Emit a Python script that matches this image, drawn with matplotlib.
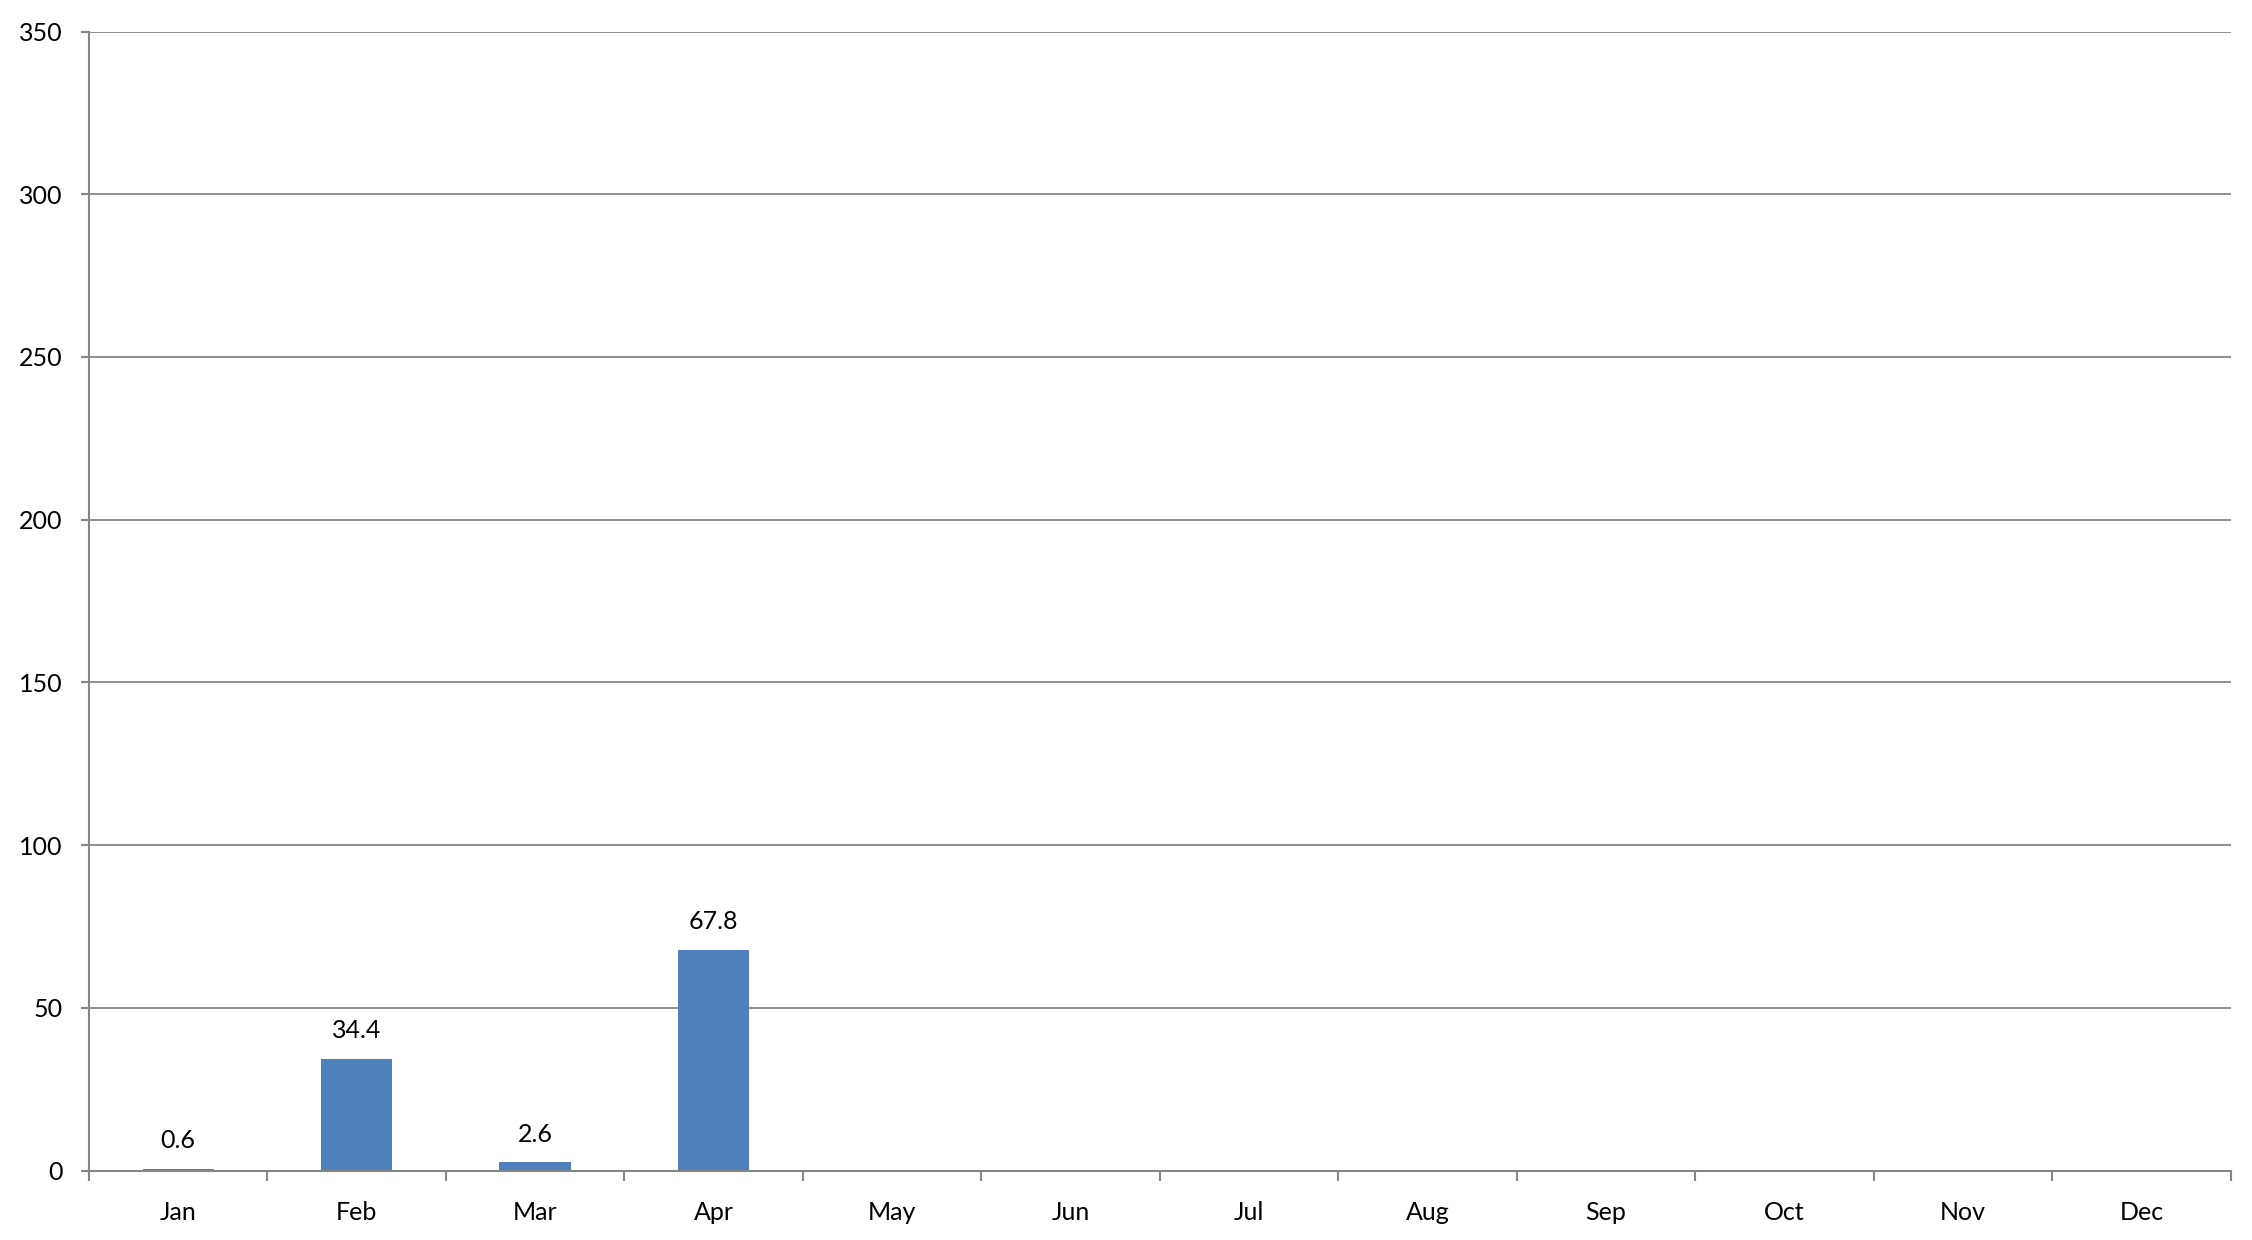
import matplotlib
matplotlib.use("Agg")
import matplotlib.pyplot as plt
import numpy as np

months = ["Jan", "Feb", "Mar", "Apr", "May", "Jun", "Jul", "Aug", "Sep", "Oct", "Nov", "Dec"]
values = [0.6, 34.4, 2.6, 67.8, None, None, None, None, None, None, None, None]
yticks = [0, 50, 100, 150, 200, 250, 300, 350]

plt.rcParams['font.family'] = ['Lato', 'DejaVu Sans']
gray = "#868686"
barc = "#4F81BD"

fig = plt.figure(figsize=(22.52, 12.40), dpi=100)
ax = fig.add_axes([89/2252, 1-1170.7/1240, (2230.7-89)/2252, (1170.7-31.5)/1240])

x = np.arange(len(months))
for xi, v in zip(x, values):
    if v is None:
        continue
    ax.bar(xi, v, width=0.40, color=barc, zorder=3)
    ax.annotate(f"{v:.1f}", (xi, v), xytext=(0, 12), textcoords="offset points",
                ha="center", va="bottom", fontsize=18, color="black")

ax.set_xlim(-0.5, 11.5)
ax.set_ylim(0, 350)
ax.set_yticks(yticks)
ax.set_yticklabels([str(t) for t in yticks])
ax.set_xticks(x)
ax.set_xticklabels(months)
ax.set_xticks(np.arange(-0.5, 12, 1), minor=True)
ax.tick_params(axis="x", which="major", length=0, pad=22, labelsize=18)
ax.tick_params(axis="x", which="minor", length=7, width=1.5, color=gray, direction="out")
ax.tick_params(axis="y", length=6, width=1.5, color=gray, pad=13, labelsize=18)

ax.grid(axis="y", color=gray, linewidth=1.3, zorder=0)
for s in ["top", "right"]:
    ax.spines[s].set_visible(False)
for s in ["left", "bottom"]:
    ax.spines[s].set_color(gray)
    ax.spines[s].set_linewidth(1.5)
    ax.spines[s].set_zorder(4)

fig.savefig("out.png", dpi=100, facecolor="white")
